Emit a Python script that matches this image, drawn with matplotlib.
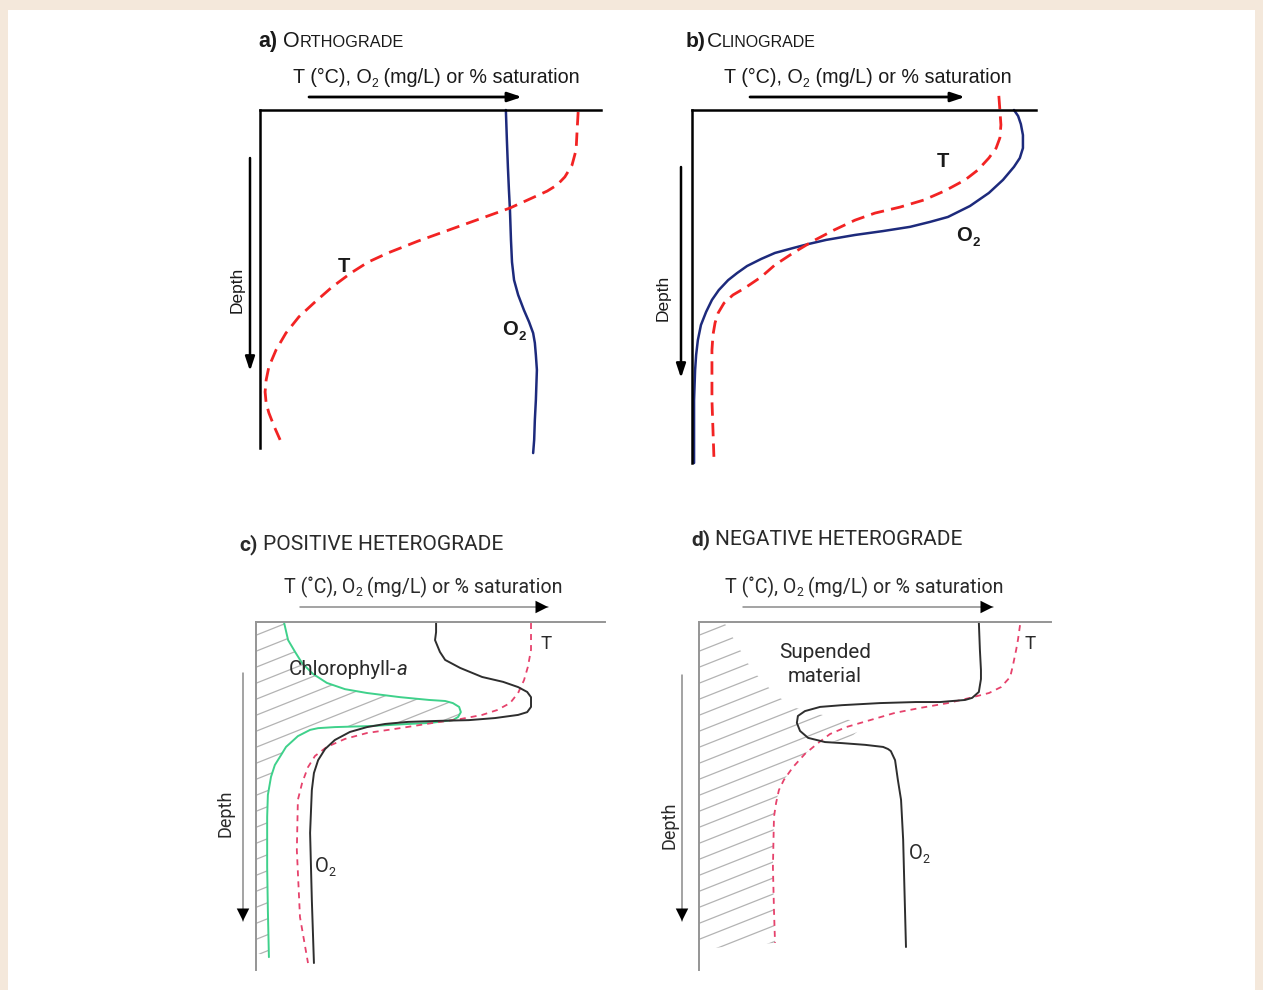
import matplotlib
matplotlib.use('Agg')
import matplotlib.pyplot as plt
import numpy as np
from matplotlib.patches import Polygon, Rectangle, FancyArrowPatch
from matplotlib.collections import LineCollection
from matplotlib.transforms import Affine2D

# ---------------- data: value (% of axis width), depth (% of axis depth) ----------------
# a) Orthograde
a_o2_val = [72.1, 72.4, 72.7, 73.0, 73.3, 73.6, 73.9, 74.5, 75.7, 77.4, 78.9, 80.1, 80.6, 80.9,
            81.2, 80.9, 80.6, 80.4, 80.1]
a_o2_dep = [0.0, 8.9, 16.9, 23.7, 29.6, 38.5, 45.0, 50.3, 54.7, 59.2, 62.7, 66.0, 68.9, 72.5,
            76.9, 85.8, 91.7, 97.6, 101.5]
a_t_val = [93.3, 93.0, 92.7, 91.5, 89.4, 87.1, 84.2, 79.2, 73.3, 64.5, 55.4, 46.3, 37.5, 31.7,
           26.7, 21.1, 15.8, 11.4, 7.6, 4.7, 2.6, 1.8, 1.5, 1.8, 2.6, 4.1, 5.9]
a_t_dep = [0.6, 5.9, 11.8, 16.3, 19.8, 22.2, 24.0, 26.3, 29.0, 32.2, 35.5, 38.8, 42.3, 45.0,
           48.2, 52.4, 57.1, 61.2, 66.0, 71.0, 76.0, 79.9, 83.4, 86.7, 89.6, 93.5, 97.6]

# b) Clinograde
b_o2_val = [93.6, 94.8, 95.6, 96.2, 96.2, 95.3, 93.6, 90.4, 86.3, 80.8, 74.4, 69.2, 63.4, 55.5,
            47.4, 39.0, 33.7, 29.4, 24.1, 20.1, 16.0, 13.1, 10.5, 7.8, 5.8, 4.1, 2.6, 1.7, 1.2,
            0.9, 0.6, 0.6]
b_o2_dep = [0.0, 1.7, 4.0, 7.1, 10.8, 13.6, 16.1, 19.8, 23.5, 27.2, 30.3, 31.7, 33.1, 34.3,
            35.4, 36.8, 38.0, 39.1, 40.5, 42.2, 44.2, 46.2, 48.2, 51.0, 53.8, 57.2, 60.9, 65.2,
            69.4, 73.7, 82.2, 100.0]
b_t_val = [89.2, 89.5, 89.8, 89.5, 88.4, 86.3, 83.1, 79.4, 73.5, 67.4, 60.5, 53.2, 47.4, 41.3,
           35.2, 29.4, 24.1, 20.1, 15.4, 11.9, 9.3, 7.6, 6.7, 6.1, 5.8, 5.8, 6.4]
b_t_dep = [-4.0, 0.0, 4.2, 7.9, 10.8, 13.6, 17.0, 19.8, 22.9, 25.5, 27.5, 29.2, 31.2, 34.0,
           37.1, 40.5, 43.9, 47.3, 50.4, 52.4, 54.7, 57.5, 60.3, 63.7, 68.0, 82.2, 99.2]

# c) Positive heterograde
c_chl_val = [8.0, 9.2, 11.2, 13.2, 16.3, 20.3, 25.5, 31.8, 41.3, 49.6, 54.2, 56.4, 58.2, 58.7, 57.9,
             56.4, 49.9, 43.6, 32.7, 22.6, 17.8, 15.5, 12.0, 8.6, 7.2, 5.4, 4.3, 3.4, 3.2, 3.2,
             3.4, 3.7]
c_chl_dep = [0.0, 5.2, 8.6, 11.8, 14.9, 17.5, 19.3, 20.4, 21.6, 22.4, 22.7, 23.3, 24.4, 25.9, 27.3,
             28.2, 29.0, 29.3, 29.9, 30.2, 30.5, 31.0, 32.8, 35.9, 38.2, 41.1, 44.5, 49.7, 56.0,
             70.4, 82.8, 96.3]
c_o2_val = [51.6, 51.6, 51.3, 52.7, 54.2, 58.5, 64.8, 70.8, 75.1, 77.7, 78.8, 78.8, 77.7, 75.1,
            68.5, 61.0, 52.7, 43.6, 37.0, 31.8, 26.9, 22.6, 19.8, 17.8, 16.6, 16.0, 15.5, 16.0,
            16.6]
c_o2_dep = [0.0, 2.9, 5.2, 8.6, 10.9, 13.2, 15.8, 17.2, 18.7, 20.1, 21.6, 24.4, 25.9, 26.7,
            27.6, 28.2, 28.4, 28.7, 29.3, 30.2, 31.6, 33.9, 36.5, 39.7, 43.4, 48.3, 60.6, 79.9,
            98.0]
c_t_val = [78.8, 78.8, 77.9, 76.8, 75.1, 72.8, 69.1, 64.8, 58.5, 50.7, 41.3, 31.8, 25.5, 20.3,
           16.9, 14.9, 13.2, 12.0, 11.7, 12.6, 14.9]
c_t_dep = [0.3, 8.0, 12.9, 16.7, 20.4, 23.3, 25.3, 26.7, 27.9, 29.0, 30.5, 31.9, 33.6, 35.9,
           38.5, 41.7, 46.3, 51.1, 65.5, 84.8, 98.0]

# d) Negative heterograde
d_o2_val = [79.5, 79.8, 80.1, 80.1, 79.5, 77.6, 75.6, 68.5, 61.6, 51.4, 40.6, 34.4, 30.1, 28.1,
            27.8, 28.7, 31.0, 35.8, 40.6, 47.2, 52.3, 53.7, 54.5, 55.7, 56.5, 57.4, 58.0, 58.2,
            58.8]
d_o2_dep = [0.0, 8.0, 13.8, 16.4, 20.1, 21.8, 22.4, 23.0, 23.0, 23.3, 23.9, 24.4, 25.6, 27.0,
            29.0, 31.3, 33.3, 34.5, 34.8, 35.3, 35.9, 36.5, 37.1, 39.7, 45.4, 51.1, 62.6, 70.4,
            93.4]
d_t_val = [91.2, 90.6, 90.1, 89.2, 88.4, 85.8, 82.4, 77.0, 70.7, 62.8, 55.7, 48.6, 41.8, 37.2,
           33.8, 30.1, 26.7, 24.1, 22.7, 21.9, 21.3, 21.0, 21.3, 21.6]
d_t_dep = [0.9, 5.2, 8.0, 12.4, 15.8, 18.7, 20.4, 21.8, 23.3, 24.7, 26.1, 28.2, 30.2, 32.2,
           34.8, 37.9, 41.7, 45.4, 48.3, 52.0, 56.0, 70.4, 82.8, 92.2]
d_sus_val = [0, 7.1, 10.5, 14.0, 17.6, 22.0, 26.4, 34.0, 43.0, 45.0, 42.0, 33.8, 30.1, 26.7,
             24.1, 22.7, 21.9, 21.3, 21.0, 21.3, 21.6, 0]
d_sus_dep = [0, 0, 6.0, 12.0, 16.7, 21.0, 24.4, 26.5, 28.2, 31.5, 34.0, 34.8, 37.9, 41.7,
             45.4, 48.3, 52.0, 56.0, 70.4, 82.8, 92.2, 94.0]

titles = ["a)", "b)", "c)", "d)"]
title_names = ["ORTHOGRADE", "CLINOGRADE", "POSITIVE HETEROGRADE", "NEGATIVE HETEROGRADE"]

# ---------------- figure ----------------
W, H = 1263, 990
fig = plt.figure(figsize=(W / 100, H / 100), dpi=100)
fig.patch.set_facecolor('#f4e8db')
PX = Affine2D().scale(1 / W, 1 / H) + fig.transFigure
fig.add_artist(Rectangle((8, 0), 1247, 980, transform=PX, facecolor='white',
                         edgecolor='none', zorder=-10))
R = fig.canvas.get_renderer()

TOPF = 'Liberation Sans'
LOWF = 'Roboto'


def make_ax(x0, y0, x1, y1, color, lw):
    ax = fig.add_axes([x0 / W, 1 - y1 / H, (x1 - x0) / W, (y1 - y0) / H])
    ax.set_xlim(0, 100)
    ax.set_ylim(100, 0)
    ax.patch.set_visible(False)
    ax.set_xticks([])
    ax.set_yticks([])
    for s in ['bottom', 'right']:
        ax.spines[s].set_visible(False)
    for s in ['top', 'left']:
        ax.spines[s].set_color(color)
        ax.spines[s].set_linewidth(lw)
    return ax


def rich(x, y, pieces, width=None, size=12, ha='left', family=TOPF, color='#1a1a1a'):
    ts = []
    for p in pieces:
        s = p[0]
        o = dict(p[1]) if len(p) > 1 else {}
        rel = o.pop('rel', 1.0)
        sh = o.pop('sh', 0.0)
        gap = o.pop('gap', 0.0)
        t = fig.text(0, 0, s, transform=PX, ha='left', va='baseline',
                     family=family, color=color, **o)
        ts.append([t, rel, sh, gap])

    def lay(fs):
        cx = 0.0
        pos = []
        for t, rel, sh, gap in ts:
            t.set_fontsize(fs * rel)
            cx += gap * fs * 100 / 72
            pos.append(cx)
            cx += t.get_window_extent(R).width
        return pos, cx

    pos, tot = lay(size)
    if width:
        size = size * width / tot
        pos, tot = lay(size)
    x0 = x - (tot / 2 if ha == 'center' else 0)
    for (t, rel, sh, gap), p in zip(ts, pos):
        t.set_position((x0 + p, H - y + sh * size * 100 / 72))
    return ts


def arrow(x0, y0, x1, y1, color, lw, head=None, hl=0.6, hw=0.2, ms=14):
    if head is None:
        a = FancyArrowPatch((x0, H - y0), (x1, H - y1), transform=PX,
                            arrowstyle=f'-|>,head_length={hl},head_width={hw}',
                            mutation_scale=ms, color=color, lw=lw, shrinkA=0, shrinkB=0)
        fig.add_artist(a)
    else:
        fig.add_artist(FancyArrowPatch((x0, H - y0), (x1, H - y1), transform=PX, arrowstyle='-',
                                       color=color, lw=lw, shrinkA=0, shrinkB=0))
        dx, dy = (x1 - x0), (y1 - y0)
        n = np.hypot(dx, dy)
        fig.add_artist(FancyArrowPatch((x1 - dx / n, H - (y1 - dy / n)), (x1, H - y1), transform=PX,
                                       arrowstyle=f'-|>,head_length={hl},head_width={hw}',
                                       mutation_scale=ms, color=head, lw=0, shrinkA=0, shrinkB=0))


def hatch(ax, vals, deps, spacing=4.6, slope=0.4, color='#b3b3b3'):
    poly = Polygon(np.column_stack([vals, deps]), closed=True, transform=ax.transData,
                   facecolor='none', edgecolor='none')
    ax.add_patch(poly)
    segs = [[(0, c), (100, c - slope * 100)] for c in np.arange(-10, 160, spacing)]
    lc = LineCollection(segs, colors=color, linewidths=0.9)
    ax.add_collection(lc)
    lc.set_clip_path(poly)


RED = '#f22323'
NAVY = '#1d2a7c'
PINK = '#e6426c'
GREEN = '#3fd18b'
DARK = '#2e2e2e'
GREY = '#959595'
LINE_KW = dict(clip_on=False, solid_joinstyle='round', solid_capstyle='round')

# ---------------- panel a ----------------
axa = make_ax(260, 110, 601, 448, 'black', 1.8)
axa.plot(a_o2_val, a_o2_dep, color=NAVY, lw=1.8, **LINE_KW)
axa.plot(a_t_val, a_t_dep, color=RED, lw=2.0, dashes=(4.8, 2.6), clip_on=False)
rich(258, 47, [(titles[0], dict(weight='bold')), (title_names[0][0], dict(gap=0.25)),
               (title_names[0][1:], dict(rel=0.76))], width=145, size=13)
rich(293, 83, [('T (°C), O',), ('2', dict(rel=0.62, sh=-0.22)),
               (' (mg/L) or % saturation',)], width=286, size=13)
arrow(309, 97, 522, 97, 'black', 2.0)
arrow(250, 158, 250, 371, 'black', 1.8)
fig.text(237, H - 290, 'Depth', transform=PX, rotation=90, ha='center', va='center',
         family=TOPF, fontsize=12.5, color='#1a1a1a')
rich(344, 272, [('T', dict(weight='bold'))], size=14.5, ha='center')
rich(514, 335, [('O', dict(weight='bold')), ('2', dict(weight='bold', rel=0.65, sh=-0.25))],
     size=14.5, ha='center')

# ---------------- panel b ----------------
axb = make_ax(692, 110, 1036, 463, 'black', 1.8)
axb.plot(b_o2_val, b_o2_dep, color=NAVY, lw=1.8, **LINE_KW)
axb.plot(b_t_val, b_t_dep, color=RED, lw=2.0, dashes=(4.8, 2.6), clip_on=False)
rich(686, 47, [(titles[1], dict(weight='bold')), (title_names[1][0], dict(gap=0.05)),
               (title_names[1][1:], dict(rel=0.76))], width=130, size=13)
rich(724, 83, [('T (°C), O',), ('2', dict(rel=0.62, sh=-0.22)),
               (' (mg/L) or % saturation',)], width=286, size=13)
arrow(750, 97, 965, 97, 'black', 2.0)
arrow(681, 167, 681, 378, 'black', 1.8)
fig.text(663, H - 298, 'Depth', transform=PX, rotation=90, ha='center', va='center',
         family=TOPF, fontsize=12.5, color='#1a1a1a')
rich(943, 167, [('T', dict(weight='bold'))], size=14.5, ha='center')
rich(968, 241, [('O', dict(weight='bold')), ('2', dict(weight='bold', rel=0.65, sh=-0.25))],
     size=14.5, ha='center')

# ---------------- panel c ----------------
axc = make_ax(256, 622, 605, 970, GREY, 1.4)
hatch(axc, [0] + c_chl_val + [0], [0] + c_chl_dep + [95.0])
axc.plot(c_chl_val, c_chl_dep, color=GREEN, lw=1.4, **LINE_KW)
axc.plot(c_t_val, c_t_dep, color=PINK, lw=1.3, dashes=(3.3, 2.8), clip_on=False)
axc.plot(c_o2_val, c_o2_dep, color=DARK, lw=1.4, **LINE_KW)
rich(239, 550, [(titles[2], dict(weight='bold')), (title_names[2], dict(gap=0.25))],
     width=262, size=13, family=LOWF, color='#2a2a2a')
rich(284, 593, [('T (˚C), O',), ('2', dict(rel=0.62, sh=-0.15)),
                (' (mg/L) or % saturation',)], width=279, size=13, family=LOWF, color='#2a2a2a')
arrow(300, 607, 548, 607, '#8a8a8a', 1.1, head='black', hl=0.5, hw=0.25, ms=18)
arrow(243, 673, 243, 921, '#8a8a8a', 1.1, head='black', hl=0.5, hw=0.25, ms=18)
fig.text(225, H - 813, 'Depth', transform=PX, rotation=90, ha='center', va='center',
         family=LOWF, fontsize=13, color='#2a2a2a')
rich(348, 675, [('Chlorophyll-',), ('a', dict(style='italic'))], width=118, size=12,
     ha='center', family=LOWF, color='#2a2a2a')
rich(546, 649, [('T',)], size=13.5, ha='center', family=LOWF, color='#2a2a2a')
rich(325, 872, [('O',), ('2', dict(rel=0.62, sh=-0.18))], size=14.5, ha='center',
     family=LOWF, color='#2a2a2a')

# ---------------- panel d ----------------
axd = make_ax(699, 622, 1051, 970, GREY, 1.4)
hatch(axd, d_sus_val, d_sus_dep)
axd.plot(d_t_val, d_t_dep, color=PINK, lw=1.3, dashes=(3.3, 2.8), clip_on=False)
axd.plot(d_o2_val, d_o2_dep, color=DARK, lw=1.4, **LINE_KW)
rich(691, 545, [(titles[3], dict(weight='bold')), (title_names[3], dict(gap=0.25))],
     width=271, size=13, family=LOWF, color='#2a2a2a')
rich(725, 593, [('T (˚C), O',), ('2', dict(rel=0.62, sh=-0.15)),
                (' (mg/L) or % saturation',)], width=279, size=13, family=LOWF, color='#2a2a2a')
arrow(743, 607, 993, 607, '#8a8a8a', 1.1, head='black', hl=0.5, hw=0.25, ms=18)
arrow(682, 675, 682, 921, '#8a8a8a', 1.1, head='black', hl=0.5, hw=0.25, ms=18)
fig.text(669, H - 825, 'Depth', transform=PX, rotation=90, ha='center', va='center',
         family=LOWF, fontsize=13, color='#2a2a2a')
rich(825, 658, [('Supended',)], width=91, size=12, ha='center', family=LOWF, color='#2a2a2a')
rich(825, 682, [('material',)], width=74, size=12, ha='center', family=LOWF, color='#2a2a2a')
rich(1030, 649, [('T',)], size=13.5, ha='center', family=LOWF, color='#2a2a2a')
rich(919, 859, [('O',), ('2', dict(rel=0.62, sh=-0.18))], size=14.5, ha='center',
     family=LOWF, color='#2a2a2a')

fig.savefig('out.png', dpi=100, facecolor=fig.get_facecolor())
